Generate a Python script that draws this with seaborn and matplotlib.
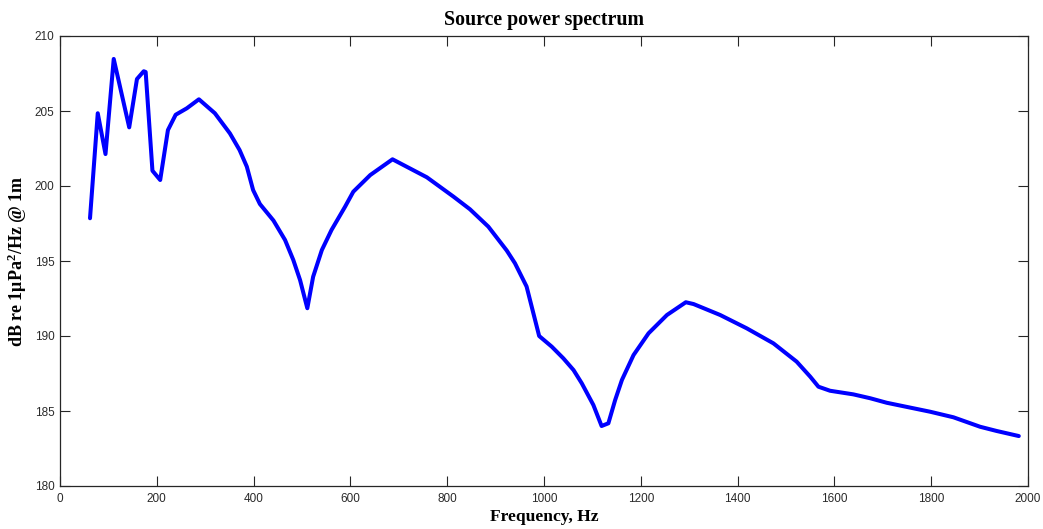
import numpy as np
import pandas as pd
import matplotlib
matplotlib.use("Agg")
import matplotlib.pyplot as plt
import seaborn as sns

# Data
freq_hz = [62, 78, 94, 111, 143, 159, 173, 177, 191, 207, 223, 239, 262, 287,
           320, 351, 371, 386, 399, 413, 441, 465, 482, 496, 511, 523, 541,
           561, 589, 606, 641, 687, 758, 813, 847, 885, 923, 940, 964, 990,
           1016, 1040, 1061, 1078, 1102, 1119, 1133, 1147, 1161, 1185, 1216,
           1254, 1293, 1309, 1364, 1419, 1474, 1522, 1550, 1567, 1591, 1639,
           1674, 1708, 1798, 1846, 1901, 1935, 1981]
level_db = [197.85, 204.85, 202.13, 208.47, 203.91, 207.13, 207.65, 207.6,
            201.02, 200.4, 203.73, 204.75, 205.18, 205.78, 204.85, 203.51,
            202.4, 201.29, 199.73, 198.8, 197.7, 196.4, 195.07, 193.73,
            191.85, 193.95, 195.73, 197.07, 198.62, 199.62, 200.73, 201.78,
            200.58, 199.29, 198.45, 197.29, 195.7, 194.85, 193.3, 190.0,
            189.29, 188.51, 187.73, 186.85, 185.4, 184.0, 184.18, 185.73,
            187.07, 188.73, 190.18, 191.4, 192.25, 192.13, 191.4, 190.51,
            189.51, 188.29, 187.29, 186.62, 186.35, 186.11, 185.85, 185.55,
            184.95, 184.58, 183.95, 183.67, 183.33]

x_ticks = [0, 200, 400, 600, 800, 1000, 1200, 1400, 1600, 1800, 2000]
y_ticks = [180, 185, 190, 195, 200, 205, 210]

title_text = "Source power spectrum"
x_label = "Frequency, Hz"
y_label = r"dB re 1μPa$^{2}$/Hz @ 1m"

sns.set_theme(style="white")
plt.rcParams["font.family"] = ["Liberation Sans", "DejaVu Sans"]
plt.rcParams["mathtext.fontset"] = "custom"
plt.rcParams["mathtext.rm"] = "Liberation Serif:bold"
plt.rcParams["mathtext.it"] = "Liberation Serif:bold"
plt.rcParams["mathtext.bf"] = "Liberation Serif:bold"

df = pd.DataFrame({"freq": freq_hz, "db": level_db})

fig = plt.figure(figsize=(10.43, 5.29), dpi=100)
ax = fig.add_axes([60 / 1043, 1 - 486 / 529, (1028 - 60) / 1043, 450 / 529])

sns.lineplot(data=df, x="freq", y="db", ax=ax, color="#0000ff",
             linewidth=2.9, sort=False, estimator=None)

ax.set_xlim(0, 2000)
ax.set_ylim(180, 210)
ax.set_xticks(x_ticks)
ax.set_yticks(y_ticks)
ax.set_xticklabels([str(v) for v in x_ticks])
ax.set_yticklabels([str(v) for v in y_ticks])

for s in ax.spines.values():
    s.set_visible(True)
    s.set_color("#262626")
    s.set_linewidth(0.9)

ax.tick_params(axis="both", which="major", direction="in", length=7.5,
               width=0.8, color="#262626", labelsize=8.5,
               labelcolor="#2a2a2a", top=True, right=True,
               bottom=True, left=True, labeltop=False, labelright=False)
ax.tick_params(axis="x", pad=5)
ax.tick_params(axis="y", pad=4)

serif = ["Liberation Serif", "DejaVu Serif"]
ax.set_title(title_text, fontsize=14.3, fontweight="bold", family=serif,
             pad=8, color="black")
ax.set_xlabel(x_label, fontsize=12.6, fontweight="bold", family=serif,
              labelpad=3, color="black")
ax.set_ylabel(y_label, fontsize=13, fontweight="bold", family=serif,
              labelpad=4, color="black")
ax.grid(False)

fig.savefig("out.png", dpi=100)
